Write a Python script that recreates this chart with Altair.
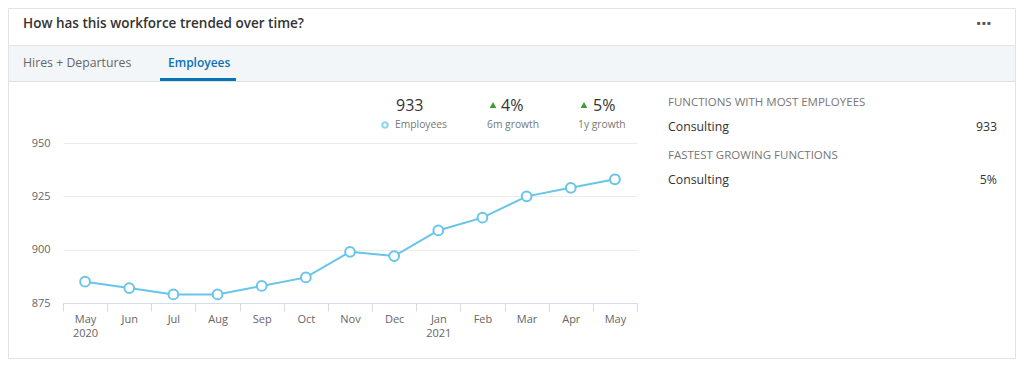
import altair as alt
import pandas as pd

# ---- data ----
months = ["May", "Jun", "Jul", "Aug", "Sep", "Oct", "Nov", "Dec", "Jan", "Feb", "Mar", "Apr", "May"]
years = ["2020", "", "", "", "", "", "", "", "2021", "", "", "", ""]
employees = [885, 882, 879, 879, 883, 887, 899, 897, 909, 915, 925, 929, 933]

headline_value = "933"
growth_6m = "4%"
growth_1y = "5%"
top_functions = ["Consulting"]
top_functions_values = ["933"]
fastest_functions = ["Consulting"]
fastest_functions_values = ["5%"]

keys = [f"{m}|{y}" for m, y in zip(months, years)]
df = pd.DataFrame({"key": keys, "employees": employees})

FONT = "Open Sans"
BLUE_LINE = "#67c5ea"
OX, OY = 63, 143  # page position of plot origin
W, H = 574, 160


def px(x):
    return alt.value(x - OX)


def py(y):
    return alt.value(y - OY)


def one():
    return alt.Data(values=[{"t": 0}])


def txt(s, x, y, size=11, color="#666666", align="left", weight="normal"):
    return alt.Chart(alt.Data(values=[{"t": s}])).mark_text(
        align=align, baseline="middle", fontSize=size, color=color,
        fontWeight=weight, font=FONT
    ).encode(text="t:N", x=px(x), y=py(y))


def rect(x1, y1, x2, y2, fill, stroke=None, fill_opacity=1):
    kw = dict(fill=fill, fillOpacity=fill_opacity)
    if stroke:
        kw.update(stroke=stroke, strokeWidth=1)
    return alt.Chart(one()).mark_rect(**kw).encode(x=px(x1), x2=px(x2), y=py(y1), y2=py(y2))


def hrule(x1, x2, y, color, width=1):
    return alt.Chart(one()).mark_rule(color=color, strokeWidth=width).encode(
        x=px(x1), x2=px(x2), y=py(y))


# ---- card decorations ----
card = rect(8.5, 8.5, 1015.5, 358.5, "white", "#e3e3e3", fill_opacity=0)
tabbar = rect(9, 45, 1015, 81, "#f3f6f8")
rule_top = hrule(9, 1015, 45.5, "#e1e5e9")
rule_bot = hrule(9, 1015, 81.5, "#dde1e5")
tab_underline = hrule(160, 236, 79.5, "#0a73b7", 3)

title = txt("How has this workforce trended over time?", 23, 24, 13.5, "#333333", weight=600)
dots = txt("■ ■ ■", 977, 23, 6, "#555555")
tab1 = txt("Hires + Departures", 23, 63, 12.3, "#666666")
tab2 = txt("Employees", 168, 63, 12, "#0a73b7", weight=600)

# ---- summary stats ----
s_val = txt(headline_value, 396, 106, 16, "#333333")
s_lbl = txt("Employees", 395, 125, 10.3, "#777777")
s_dot = alt.Chart(one()).mark_point(
    shape="circle", filled=False, size=30, stroke=BLUE_LINE, strokeWidth=2.2
).encode(x=px(385), y=py(125))

g6 = txt(growth_6m, 501, 106, 16, "#333333")
g6_lbl = txt("6m growth", 487, 125, 10.3, "#777777")
g1 = txt(growth_1y, 593, 106, 16, "#333333")
g1_lbl = txt("1y growth", 578, 125, 10.3, "#777777")
tri6 = alt.Chart(one()).mark_point(shape="triangle-up", filled=True, size=45, color="#3f9c35", opacity=1).encode(x=px(493), y=py(105))
tri1 = alt.Chart(one()).mark_point(shape="triangle-up", filled=True, size=45, color="#3f9c35", opacity=1).encode(x=px(584), y=py(105))

# ---- right panel ----
r1 = txt("FUNCTIONS WITH MOST EMPLOYEES", 668, 103, 11.5, "#777777")
r2 = txt(top_functions[0], 668, 127, 12.3, "#333333")
r3 = txt(top_functions_values[0], 997, 127, 12.3, "#333333", align="right")
r4 = txt("FASTEST GROWING FUNCTIONS", 668, 156, 11.5, "#777777")
r5 = txt(fastest_functions[0], 668, 180, 12.3, "#333333")
r6 = txt(fastest_functions_values[0], 997, 180, 12.3, "#333333", align="right")

# ---- main chart ----
x_enc = alt.X(
    "key:N", sort=keys,
    scale=alt.Scale(type="band", paddingInner=0, paddingOuter=0),
    axis=alt.Axis(
        title=None, labelAngle=0, tickBand="extent", domainColor="#d3dcea",
        tickColor="#d3dcea", tickSize=8, labelPadding=2,
        labelExpr="split(datum.label, '|')", labelLineHeight=14,
        labelColor="#666666", labelFontSize=11, labelFont=FONT, grid=False,
    ),
)
y_enc = alt.Y(
    "employees:Q",
    scale=alt.Scale(domain=[875, 950], zero=False, nice=False),
    axis=alt.Axis(
        title=None, values=[875, 900, 925, 950], domain=False, ticks=False,
        labelPadding=13, gridColor="#e9ecef", labelColor="#666666",
        labelFontSize=11, labelFont=FONT,
    ),
)

base = alt.Chart(df)
line = base.mark_line(color=BLUE_LINE, strokeWidth=2).encode(x=x_enc, y=y_enc)
pts = base.mark_point(
    shape="circle", filled=True, fill="white", stroke=BLUE_LINE,
    strokeWidth=2, size=95, opacity=1
).encode(x=alt.X("key:N", sort=keys), y="employees:Q")

chart = alt.layer(
    card, tabbar, rule_top, rule_bot, tab_underline, title, dots, tab1, tab2,
    line, pts,
    s_val, s_lbl, s_dot, g6, g6_lbl, g1, g1_lbl, tri6, tri1,
    r1, r2, r3, r4, r5, r6,
).properties(
    width=W, height=H,
    autosize=alt.AutoSizeParams(type="none"),
    padding={"left": OX - 8, "top": OY - 8, "right": 1008 - (OX - 8) - W, "bottom": 351 - (OY - 8) - H},
).configure_view(stroke=None)

chart.save("out.html", embed_options={"renderer": "svg", "actions": False})
